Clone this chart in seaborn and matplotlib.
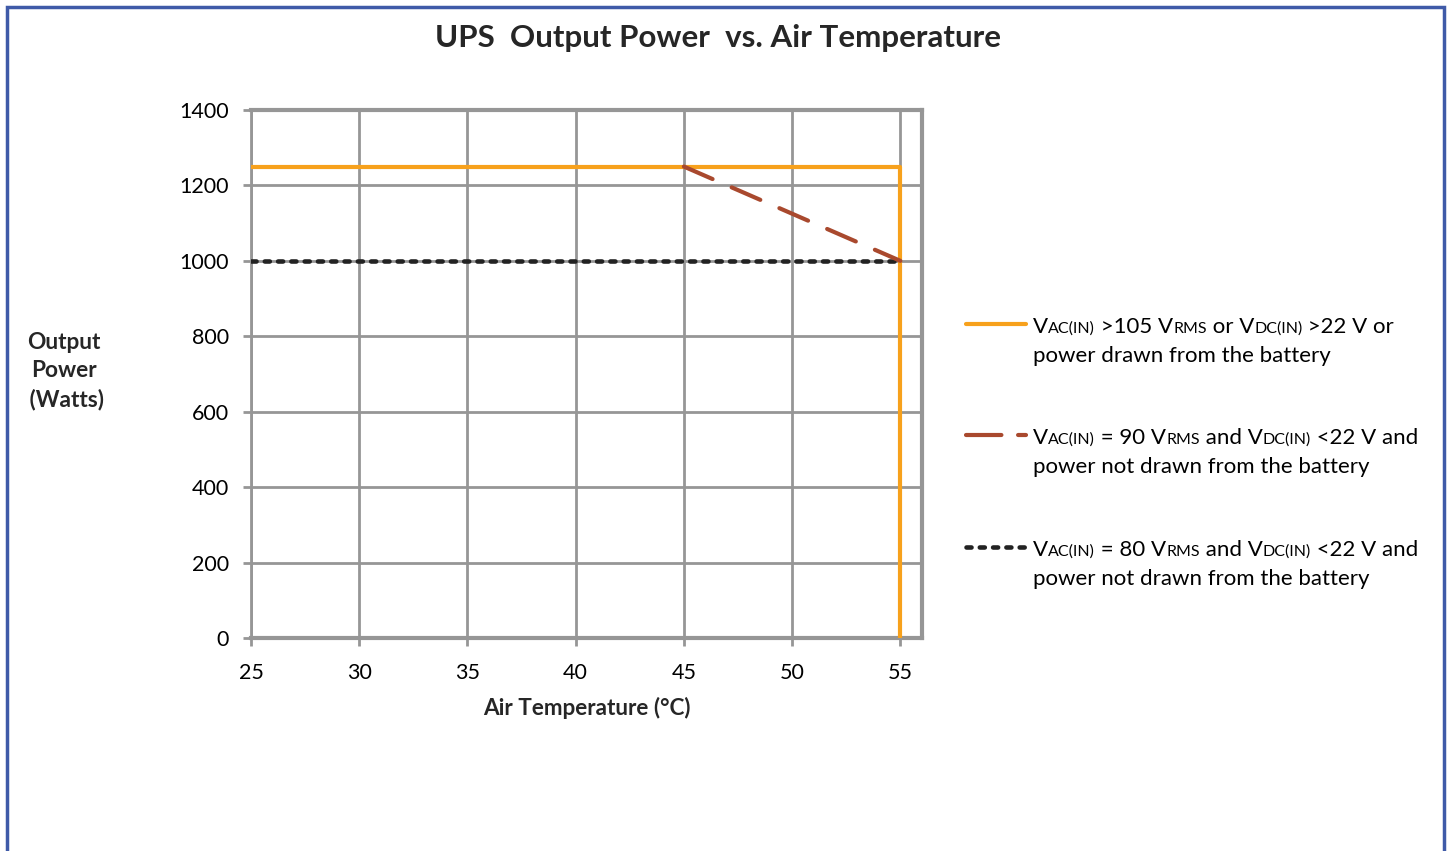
import matplotlib
matplotlib.use("Agg")
import matplotlib.pyplot as plt
import seaborn as sns
import pandas as pd
from matplotlib.lines import Line2D
from matplotlib.patches import Rectangle

# data
temp_full = [25, 55, 55]
power_full = [1250, 1250, 0]
temp_90 = [45, 55]
power_90 = [1250, 1000]
temp_80 = [25, 55]
power_80 = [1000, 1000]

x_ticks = [25, 30, 35, 40, 45, 50, 55]
y_ticks = [0, 200, 400, 600, 800, 1000, 1200, 1400]

sns.set_theme(style="white")
plt.rcParams['font.family'] = ['Lato', 'DejaVu Sans']

orange = "#F7A11C"
brown = "#A9492E"
black = "#222222"
grey = "#969696"

dash_90 = (0, (7.5, 5))
dot_80 = (0, (1.1, 1.8))

fig = plt.figure(figsize=(14.47, 8.51), dpi=100)
ax = fig.add_axes([251/1447, 1-638/851, (922-251)/1447, (638-110)/851])

df_full = pd.DataFrame({"t": temp_full, "p": power_full})
df_90 = pd.DataFrame({"t": temp_90, "p": power_90})
df_80 = pd.DataFrame({"t": temp_80, "p": power_80})

sns.lineplot(data=df_80, x="t", y="p", ax=ax, color=black, lw=3.3,
             linestyle=dot_80, dash_capstyle="round",
             estimator=None, sort=False, zorder=3)
sns.lineplot(data=df_full, x="t", y="p", ax=ax, color=orange, lw=3,
             estimator=None, sort=False, zorder=4)
sns.lineplot(data=df_90, x="t", y="p", ax=ax, color=brown, lw=3,
             linestyle=dash_90, dash_capstyle="round",
             estimator=None, sort=False, zorder=5)

ax.set_xlim(25, 56)
ax.set_ylim(0, 1400)
ax.set_xticks(x_ticks)
ax.set_yticks(y_ticks)
ax.grid(True, color=grey, lw=2)
ax.set_axisbelow(True)
for s in ax.spines.values():
    s.set_color(grey)
    s.set_linewidth(3)
ax.spines['left'].set_linewidth(2)
ax.tick_params(axis="both", which="both", length=6, width=2, color=grey,
               labelsize=15.5, labelcolor="black", direction="out",
               bottom=True, left=True)
ax.tick_params(axis="x", pad=12)
ax.tick_params(axis="y", pad=10)
ax.set_xlabel("")
ax.set_ylabel("")

fig.text(718/1447, 1-38/851, "UPS  Output Power  vs. Air Temperature",
         ha="center", va="center", fontsize=22.5, fontweight="bold")
fig.text(587/1447, 1-708/851, "Air Temperature (°C)", ha="center",
         va="center", fontsize=16.2, fontweight="bold")
fig.text(64/1447, 1-371/851, "Output\nPower\n (Watts)", ha="center",
         va="center", fontsize=16.3, fontweight="bold", linespacing=1.42)

# legend, drawn by hand so the small caps can be kept
renderer = fig.canvas.get_renderer()


def rich_line(x_px, y_px, pieces):
    x = x_px
    for s, size in pieces:
        t = fig.text(x / 1447, 1 - y_px / 851, s, fontsize=size,
                     va="baseline", ha="left", color="black")
        x += t.get_window_extent(renderer).width


big, small = 16, 11.5
entries = [
    (dict(color=orange, lw=3),
     [("V", big), ("AC(IN)", small), (" >105 V", big), ("RMS", small),
      (" or V", big), ("DC(IN)", small), (" >22 V or", big)],
     "power drawn from the battery", 333),
    (dict(color=brown, lw=3, linestyle=(0, (8.5, 4)), dash_capstyle="round"),
     [("V", big), ("AC(IN)", small), (" = 90 V", big), ("RMS", small),
      (" and V", big), ("DC(IN)", small), (" <22 V and", big)],
     "power not drawn from the battery", 444),
    (dict(color=black, lw=3.3, linestyle=dot_80, dash_capstyle="round"),
     [("V", big), ("AC(IN)", small), (" = 80 V", big), ("RMS", small),
      (" and V", big), ("DC(IN)", small), (" <22 V and", big)],
     "power not drawn from the battery", 556),
]
for style, first, second, ybase in entries:
    yl = ybase - 9
    fig.add_artist(Line2D([966/1447, 1026/1447], [1 - yl/851, 1 - yl/851],
                          transform=fig.transFigure, **style))
    rich_line(1033, ybase, first)
    rich_line(1033, ybase + 29, [(second, big)])

# blue frame around the chart area (bottom edge cut off)
fig.add_artist(Rectangle((7/1447, -0.05), (1444-7)/1447, 1 - 7/851 + 0.05,
                         transform=fig.transFigure, fill=False,
                         edgecolor="#3F5AA8", lw=2.5))

fig.savefig("out.png", dpi=100)
